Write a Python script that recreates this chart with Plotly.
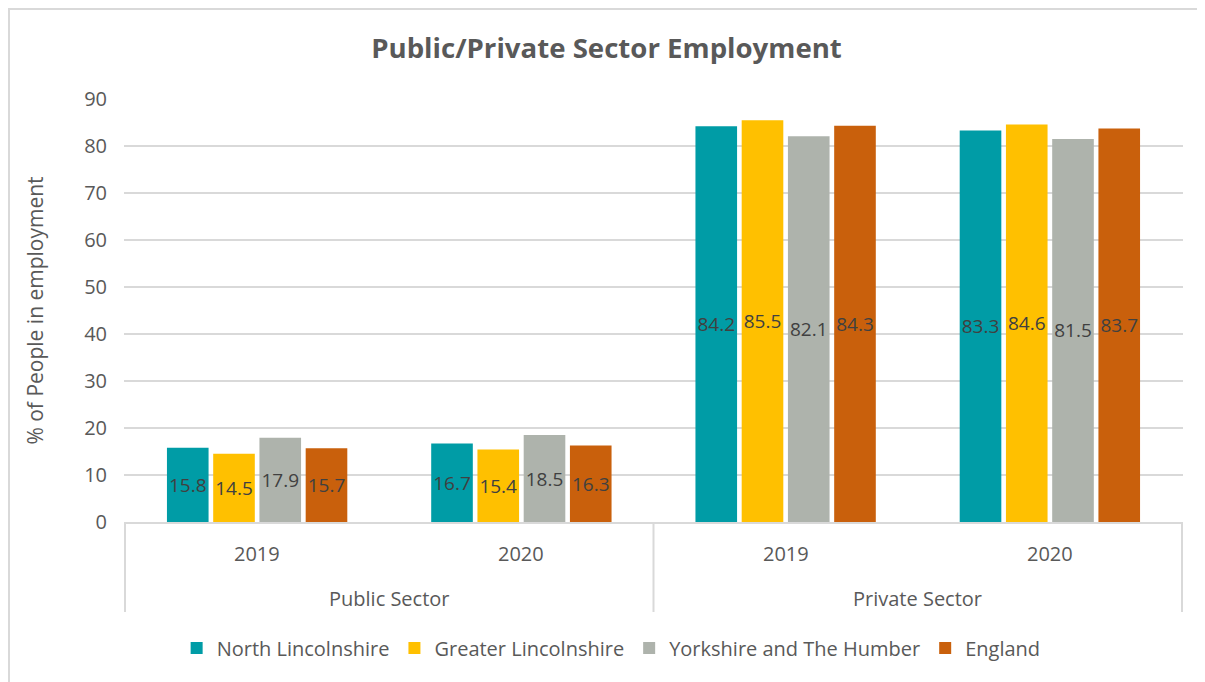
"""
Public/Private Sector Employment - clustered bar chart with a two-level x axis.
"""

import plotly.graph_objects as go

# ── Data ────────────────────────────────────────────────────────────────────
sectors = ["Public Sector", "Public Sector", "Private Sector", "Private Sector"]
years = ["2019", "2020", "2019", "2020"]
sector_names = ["Public Sector", "Private Sector"]

north_lincolnshire = [15.8, 16.7, 84.2, 83.3]
greater_lincolnshire = [14.5, 15.4, 85.5, 84.6]
yorkshire_humber = [17.9, 18.5, 82.1, 81.5]
england = [15.7, 16.3, 84.3, 83.7]

series = [
    ("North Lincolnshire", north_lincolnshire, "#009CA6"),
    ("Greater Lincolnshire", greater_lincolnshire, "#FFC000"),
    ("Yorkshire and The Humber", yorkshire_humber, "#AEB3AC"),
    ("England", england, "#C9600C"),
]

# ── Style ───────────────────────────────────────────────────────────────────
FONT = "Open Sans, Noto Sans, sans-serif"
TEXT_GREY = "#595959"
LABEL_GREY = "#404040"
GRID = "#D9D9D9"

# figure sits 8px inside the page (body margin), so size it to fill the rest
W, H = 1197, 674
M_L, M_R, M_T, M_B = 116, 22, 91, 160
PLOT_H = H - M_T - M_B

fig = go.Figure()

for name, values, color in series:
    fig.add_trace(go.Bar(
        x=[sectors, years],
        y=values,
        name=name,
        marker=dict(color=color, line=dict(width=0)),
        text=[f"{v:.1f}" for v in values],
        textposition="inside",
        insidetextanchor="middle",
        textangle=0,
        constraintext="none",
        textfont=dict(color=LABEL_GREY, size=19, family=FONT),
    ))

# year labels under each cluster, sector labels under each pair
annotations = []
for i, yr in enumerate(years):
    annotations.append(dict(
        x=i, xref="x", y=-31 / PLOT_H, yref="paper",
        text=yr, showarrow=False, yanchor="middle",
        font=dict(size=20, color=TEXT_GREY),
    ))
for j, sec in enumerate(sector_names):
    annotations.append(dict(
        x=2 * j + 0.5, xref="x", y=-76 / PLOT_H, yref="paper",
        text=sec, showarrow=False, yanchor="middle",
        font=dict(size=20, color=TEXT_GREY),
    ))

shapes = []
for k in range(len(sector_names) + 1):
    shapes.append(dict(
        type="line", xref="x", yref="paper",
        x0=2 * k - 0.5, x1=2 * k - 0.5, y0=0, y1=-90 / PLOT_H,
        line=dict(color=GRID, width=2),
    ))
# chart border
shapes.append(dict(
    type="rect", xref="paper", yref="paper",
    x0=-(M_L - 1) / (W - M_L - M_R), x1=1.2,
    y0=-1.0, y1=(PLOT_H + M_T - 1) / PLOT_H,
    line=dict(color=GRID, width=2),
    fillcolor="rgba(0,0,0,0)",
    layer="below",
))

fig.update_layout(
    title=dict(
        text="<b>Public/Private Sector Employment</b>",
        font=dict(size=27.6, color=TEXT_GREY, family=FONT),
        x=0.5, xanchor="center",
        y=1 - 40 / H, yanchor="middle",
    ),
    width=W, height=H,
    paper_bgcolor="white",
    plot_bgcolor="white",
    font=dict(color=TEXT_GREY, family=FONT, size=20),
    barmode="group",
    bargap=0.3,
    bargroupgap=0.1,
    margin=dict(l=M_L, r=M_R, t=M_T, b=M_B, autoexpand=False),
    xaxis=dict(
        type="multicategory",
        showline=True,
        linecolor=GRID,
        linewidth=2,
        showgrid=False,
        showdividers=False,
        showticklabels=False,
        ticks="",
    ),
    yaxis=dict(
        title=dict(text="% of People in employment",
                   font=dict(size=21, color=TEXT_GREY), standoff=34),
        range=[0, 90],
        dtick=10,
        showgrid=True,
        gridcolor=GRID,
        gridwidth=2,
        zeroline=False,
        showline=False,
        tickfont=dict(size=20, color=TEXT_GREY),
        ticks="",
        ticklabelstandoff=16,
        automargin=False,
    ),
    legend=dict(
        orientation="h",
        x=0.46, xanchor="center",
        y=-126 / PLOT_H, yanchor="middle",
        font=dict(size=20, color=TEXT_GREY),
        traceorder="normal",
        itemclick=False,
    ),
    annotations=annotations,
    shapes=shapes,
)

fig.write_html("out.html")
